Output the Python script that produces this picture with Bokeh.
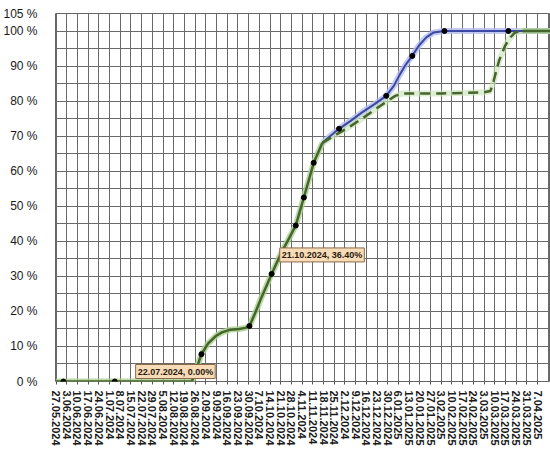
from bokeh.plotting import figure
from bokeh.models import Range1d, FixedTicker, Label
from bokeh.embed import file_html
from bokeh.resources import INLINE

weeks = ["27.05.2024", "3.06.2024", "10.06.2024", "17.06.2024", "24.06.2024", "1.07.2024",
         "8.07.2024", "15.07.2024", "22.07.2024", "29.07.2024", "5.08.2024", "12.08.2024",
         "19.08.2024", "26.08.2024", "2.09.2024", "9.09.2024", "16.09.2024", "23.09.2024",
         "30.09.2024", "7.10.2024", "14.10.2024", "21.10.2024", "28.10.2024", "4.11.2024",
         "11.11.2024", "18.11.2024", "25.11.2024", "2.12.2024", "9.12.2024", "16.12.2024",
         "23.12.2024", "30.12.2024", "6.01.2025", "13.01.2025", "20.01.2025", "27.01.2025",
         "3.02.2025", "10.02.2025", "17.02.2025", "24.02.2025", "3.03.2025", "10.03.2025",
         "17.03.2025", "24.03.2025", "31.03.2025", "7.04.2025"]

y_ticks = [0, 10, 20, 30, 40, 50, 60, 70, 80, 90, 100, 105]

# actual progress (solid green), x in week index
act_x = [0, 0.69, 5.49, 12.0, 12.7, 13.1, 13.59, 14.2, 14.9, 15.5, 16.3, 17.1, 17.7, 18.07,
         18.6, 19.2, 20.15, 21.0, 21.8, 22.4, 23.16, 24.08, 24.9]
act_y = [0, 0, 0, 0, 0, 3.5, 7.8, 10.8, 12.9, 14.0, 14.8, 15.0, 15.3, 15.8,
         19.5, 24.0, 30.7, 36.4, 41.0, 44.5, 52.5, 62.4, 68.1]

# plan (blue) after the knee
plan_x = [24.9, 25.6, 26.45, 27.5, 28.6, 29.7, 30.86, 31.6, 32.15, 32.7, 33.29, 33.9,
          34.6, 35.3, 36.3, 42.27, 46.2]
plan_y = [68.1, 70.0, 72.1, 74.3, 76.8, 79.0, 81.5, 84.5, 87.7, 90.5, 92.9, 95.8,
          98.2, 99.6, 100, 100, 100]

# forecast (dashed green)
fc_x = [24.9, 26.1, 27.5, 29.07, 30.9, 31.7, 32.4, 36.0, 40.0, 40.6, 40.9, 41.4, 41.97,
        42.5, 42.9, 43.6]
fc_y = [68.1, 70.3, 72.8, 76.0, 79.9, 81.5, 82.2, 82.2, 82.5, 82.9, 85.8, 91.5, 95.8,
        98.3, 99.6, 100]

end_x = [43.6, 46.2]
end_y = [100, 100]

dot_x = [0.69, 5.49, 13.59, 18.07, 20.15, 22.4, 23.16, 24.08, 26.45, 30.86, 33.29, 36.3, 42.27]
dot_y = [0, 0, 7.8, 15.8, 30.7, 44.5, 52.5, 62.4, 72.1, 81.5, 92.9, 100, 100]

lab1 = (8, 0, "22.07.2024, 0.00%")
lab2 = (21, 36.4, "21.10.2024, 36.40%")

p = figure(width=550, height=450, output_backend="svg", toolbar_location=None,
           x_range=Range1d(-0.05, 46.21), y_range=Range1d(0, 105),
           min_border_left=49, min_border_right=0, min_border_top=13, min_border_bottom=69)
p.background_fill_color = "white"
p.border_fill_color = "white"
p.outline_line_color = "#666666"

grid_col = "#6a6a6a"
p.xgrid.ticker = FixedTicker(ticks=list(range(47)))
p.ygrid.ticker = FixedTicker(ticks=list(range(0, 106, 5)))
for g in (p.xgrid, p.ygrid):
    g.grid_line_color = grid_col
    g.grid_line_width = 1
    g.grid_line_alpha = 1

xa = p.xaxis[0]
xa.ticker = FixedTicker(ticks=list(range(len(weeks))))
xa.major_label_overrides = {i: w for i, w in enumerate(weeks)}
xa.major_label_orientation = "vertical"
xa.axis_line_color = None
xa.major_tick_out = 3
xa.major_tick_in = 0
xa.major_tick_line_color = "#555555"
xa.minor_tick_line_color = None
xa.major_label_standoff = 6
xa.major_label_text_font = "Liberation Sans"
xa.major_label_text_font_style = "bold"
xa.major_label_text_font_size = "11px"
xa.major_label_text_color = "#1a1a1a"

ya = p.yaxis[0]
ya.ticker = FixedTicker(ticks=y_ticks)
ya.major_label_overrides = {v: f"{v} %" for v in y_ticks}
ya.axis_line_color = None
ya.major_tick_line_color = None
ya.minor_tick_line_color = None
ya.major_label_standoff = 12
ya.major_label_text_font = "Liberation Sans"
ya.major_label_text_font_size = "12px"
ya.major_label_text_color = "#1a1a1a"

blue = "#3b4aa0"
green = "#46652c"
# glows
p.line(plan_x, plan_y, line_color="#b4bcf0", line_width=6, line_alpha=0.8)
p.line(fc_x, fc_y, line_color="#c8e2b4", line_width=6, line_alpha=0.6)
p.line(act_x, act_y, line_color="#a9cf8e", line_width=6, line_alpha=0.8)
p.line(end_x, end_y, line_color="#a9cf8e", line_width=6, line_alpha=0.8)
# lines
p.line(plan_x, plan_y, line_color=blue, line_width=2)
p.line(fc_x, fc_y, line_color=green, line_width=2.5, line_dash="10 6")
p.line(act_x, act_y, line_color=green, line_width=2.5)
p.line(end_x, end_y, line_color=green, line_width=2.5)
p.scatter(dot_x, dot_y, size=5, color="black")

for (lx, ly, txt), xo, yo, base in ((lab1, -6, 3, "bottom"), (lab2, -1, -1, "middle")):
    p.add_layout(Label(x=lx, y=ly, text=txt, x_offset=xo, y_offset=yo,
                       text_align="left", text_baseline=base,
                       text_font="Liberation Sans", text_font_style="bold",
                       text_font_size="9px", text_color="#2a1a10",
                       background_fill_color="#f8dcb8", border_line_color="#8a6a4a",
                       border_line_width=1, padding=2))

open("out.html", "w").write(file_html(p, INLINE))
